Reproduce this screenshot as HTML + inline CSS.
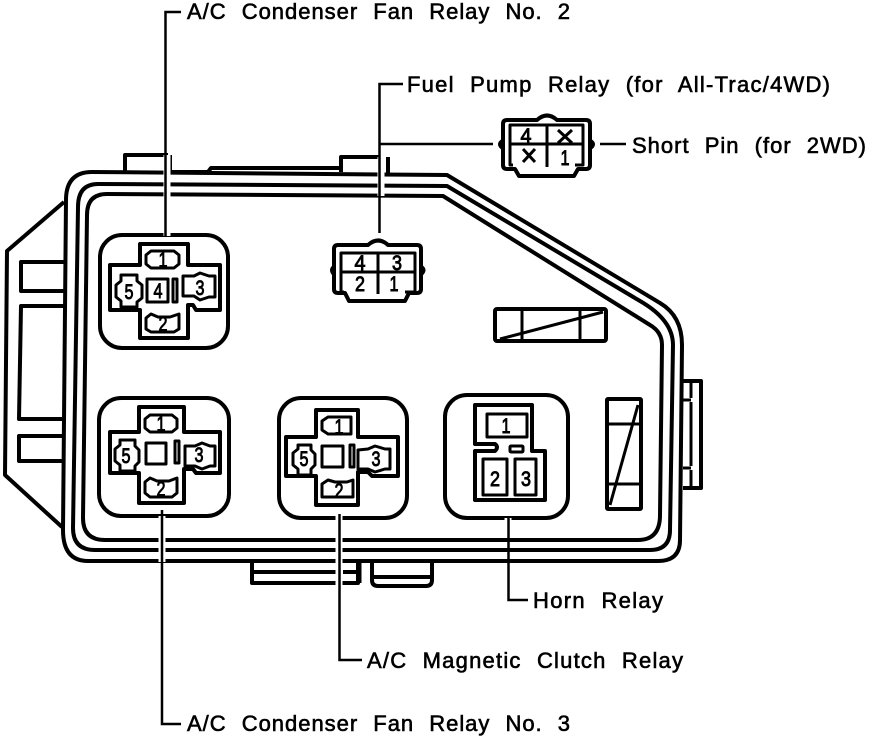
<!DOCTYPE html>
<html><head><meta charset="utf-8"><style>
html,body{margin:0;padding:0;background:#fff}
svg{display:block}
text{font-family:"Liberation Sans",sans-serif;fill:#000}
.l{font-size:22px;stroke:#000;stroke-width:.6;word-spacing:8px}
.n{font-size:21px;text-anchor:middle;stroke:#000;stroke-width:.9}
.s{fill:none;stroke:#000;stroke-width:4;stroke-linejoin:round}
.t{fill:none;stroke:#000;stroke-width:3;stroke-linejoin:round}
.f{fill:none;stroke:#000;stroke-width:2.5}
.w{fill:none;stroke:#fff;stroke-width:7}
</style></head><body>
<svg width="880" height="740" viewBox="0 0 880 740" xmlns="http://www.w3.org/2000/svg">
<!-- housing -->
<path class="s" d="M66,200 Q66,172 92,172 L447,175 L660,303 Q682,316 682,345 L680,540 Q680,561 658,561 L88,561 Q63,561 63,530 Z"/>
<path class="s" d="M78,207 Q78,184 98,184 L447,186 L640,301 Q673,320 673,345 L670,530 Q670,550 650,550 L95,550 Q73,550 73,528 Z"/>
<path class="s" d="M87,215 Q87,194 107,194 L443,196 L650,325 Q662,332 662,345 L660,515 Q660,540 638,540 L105,540 Q83,540 83,518 Z"/>
<!-- top tabs -->
<path class="s" d="M125,172 V155 H168 M170,155 V172 H208 L211,168 H341 M341,172 V157 H380 M388,157 V173"/>
<!-- left wing -->
<path class="s" d="M64,202 L7,251 L5,475 L62,527"/>
<path class="s" d="M64,262 H21 V291 H64 M64,306 H21 L19,419 H62 M62,436 H19 V461 H62"/>
<!-- right tab -->
<path class="s" d="M683,381 H701 V488 H683"/>
<path class="t" d="M691,381 V398 M683,400 H691 M691,402 V466 M683,468 H691 M691,470 V488"/>
<!-- bottom tabs -->
<path class="s" d="M252,561 V583 H358 V563 M252,572 H336 M343,572 H358"/>
<path class="t" d="M360,562 V583"/>
<path class="s" d="M372,561 V580 Q372,586 378,586 H426 Q432,586 432,580 V561 M372,577 H432"/>
<!-- plain rectangles -->
<rect class="s" x="495" y="309" width="111" height="32" rx="2"/>
<path class="t" d="M522,309 V341 M580,309 V341 M500,339 L603,312"/>
<rect class="s" x="607" y="399" width="34" height="110" rx="1"/>
<path class="t" d="M607,424 H641 M607,484 H641 M610,505 L638,405"/>
<!-- relay block 1 -->
<rect class="s" x="100" y="235" width="128" height="113" rx="22"/>
<path class="s" d="M140,244 H188 V265 H220 V310 H196 L193,305 H188 V338 H140 V310 H110 V265 H140 Z"/>
<path class="t" d="M151,251 H174 L179,255 V264 L174,268 H151 L146,264 V255 Z"/>
<path class="t" d="M151,314 L158,317 H170 L179,314 V329 L174,332 H151 L146,329 V318 Z"/>
<path class="t" d="M121,275 H137 V281 L142,285 V298 L137,302 V307 H121 V301 L116,297 V285 L121,281 Z"/>
<path class="t" d="M183,276 L194,276 L200,273 L209,276 H215 V297 L209,297 L200,300 L194,296 H183 Z"/>
<rect class="t" x="147" y="279" width="21" height="23"/>
<rect class="t" x="173" y="279" width="4" height="23"/>
<g lengthAdjust="spacingAndGlyphs">
<text class="n" x="163" y="267" textLength="9" lengthAdjust="spacingAndGlyphs">1</text><text class="n" x="163" y="331" textLength="9" lengthAdjust="spacingAndGlyphs">2</text>
<text class="n" x="129" y="299" textLength="9" lengthAdjust="spacingAndGlyphs">5</text><text class="n" x="200" y="295" textLength="9" lengthAdjust="spacingAndGlyphs">3</text><text class="n" x="158" y="298" textLength="9" lengthAdjust="spacingAndGlyphs">4</text>
</g>
<!-- relay block 2 -->
<rect class="s" x="99" y="398" width="130" height="118" rx="22"/>
<path class="s" d="M139,407 H184 V432 H220 V473 H196 L193,469 H184 V503 H139 V473 H110 V432 H139 Z"/>
<path class="t" d="M150,415 H172 L177,419 V428 L172,432 H150 L145,428 V419 Z"/>
<path class="t" d="M150,478 L157,481 H169 L177,478 V493 L172,497 H150 L145,493 V482 Z"/>
<path class="t" d="M120,440 H135 V446 L139,450 V462 L135,466 V471 H120 V465 L115,461 V449 L120,445 Z"/>
<path class="t" d="M185,446 L195,446 L202,443 L210,446 H215 V466 H210 L202,469 L195,466 H185 Z"/>
<rect class="t" x="146" y="443" width="20" height="21"/>
<rect class="t" x="175" y="441" width="4" height="22"/>
<text class="n" x="161" y="431" textLength="9" lengthAdjust="spacingAndGlyphs">1</text><text class="n" x="161" y="496" textLength="9" lengthAdjust="spacingAndGlyphs">2</text>
<text class="n" x="126" y="463" textLength="9" lengthAdjust="spacingAndGlyphs">5</text><text class="n" x="199" y="462" textLength="9" lengthAdjust="spacingAndGlyphs">3</text>
<!-- relay block 3 -->
<rect class="s" x="279" y="398" width="128" height="120" rx="22"/>
<path class="s" d="M316,410 H358 V437 H398 V476 H372 L368,472 H358 V505 H316 V476 H286 V437 H316 Z"/>
<path class="t" d="M328,417 H351 V434 H328 L322,430 V421 Z"/>
<path class="t" d="M328,480 L335,482 H347 L353,480 V497 H322 V484 Z"/>
<path class="t" d="M298,445 H311 V450 L315,454 V465 L311,469 V475 H298 V469 L293,465 V453 L298,449 Z"/>
<path class="t" d="M358,450 L368,449 L375,446 L385,449 H390 V469 H385 L375,472 L368,469 H358 Z"/>
<rect class="t" x="322" y="446" width="21" height="21"/>
<rect class="t" x="350" y="445" width="4" height="22"/>
<text class="n" x="339" y="434" textLength="9" lengthAdjust="spacingAndGlyphs">1</text><text class="n" x="339" y="498" textLength="9" lengthAdjust="spacingAndGlyphs">2</text>
<text class="n" x="304" y="466" textLength="9" lengthAdjust="spacingAndGlyphs">5</text><text class="n" x="376" y="466" textLength="9" lengthAdjust="spacingAndGlyphs">3</text>
<!-- horn relay -->
<rect class="s" x="445" y="395" width="123" height="123" rx="22"/>
<path class="s" d="M475,405 H532 V451 H545 V500 H475 V451 H495 Q499,447 495,444 H475 Z"/>
<rect class="t" x="487" y="414" width="40" height="23"/>
<rect class="t" x="510" y="446" width="13" height="6" rx="1"/>
<rect class="t" x="483" y="459" width="24" height="36"/>
<rect class="t" x="515" y="459" width="21" height="36"/>
<text class="n" x="506" y="433" textLength="9" lengthAdjust="spacingAndGlyphs">1</text><text class="n" x="495" y="486" textLength="10" lengthAdjust="spacingAndGlyphs">2</text><text class="n" x="526" y="486" textLength="10" lengthAdjust="spacingAndGlyphs">3</text>
<!-- fuel pump connector -->
<path class="s" d="M338,245 H368 Q378,236 388,245 H417 Q421,245 421,249 V289 Q421,293 417,293 H409 L405,301 H349 L345,293 H338 Q334,293 334,289 V249 Q334,245 338,245 Z"/>
<path class="t" d="M334,266 Q329,270 334,275 M421,266 Q427,270 421,275"/>
<path class="t" d="M344,292 H341 V253 H415 V292 H405 M341,272 H415 M378,253 V294"/>
<text class="n" x="360" y="270" textLength="11" lengthAdjust="spacingAndGlyphs">4</text><text class="n" x="397" y="270" textLength="10" lengthAdjust="spacingAndGlyphs">3</text><text class="n" x="360" y="291" textLength="10" lengthAdjust="spacingAndGlyphs">2</text><text class="n" x="394" y="291" textLength="9" lengthAdjust="spacingAndGlyphs">1</text>
<!-- short pin connector -->
<path class="s" d="M507,120 H537 Q547,111 557,120 H586 Q590,120 590,124 V165 Q590,169 586,169 H578 L574,176 H519 L515,169 H507 Q503,169 503,165 V124 Q503,120 507,120 Z"/>
<path class="t" d="M503,140 Q496,144 503,149"/>
<path class="t" d="M590,140 Q597,144 590,149"/>
<path class="t" d="M513,165 H510 V125 H583 V165 H575 M510,144 H583 M547,125 V167"/>
<path class="t" d="M558,130 L572,143 M572,130 L558,143 M523,149 L535,162 M535,149 L523,162"/>
<text class="n" x="526" y="143" textLength="11" lengthAdjust="spacingAndGlyphs">4</text><text class="n" x="565" y="165" textLength="9" lengthAdjust="spacingAndGlyphs">1</text>
<!-- leader halos -->
<path class="w" d="M167,155 V236 M381,157 V196 M339,516 V590 M162,516 V562 M508,518 V520"/>
<!-- leaders -->
<path class="f" d="M181,12 H165.5 V236"/>
<path class="f" d="M403,84 H379.500 V233"/>
<path class="f" d="M379.500,144 H493 M600,144 H626"/>
<path class="f" d="M162,510 V724 H181"/>
<path class="f" d="M339.500,514 V660 H362"/>
<path class="f" d="M508.500,516 V600 H528"/>
<!-- labels -->
<text class="l" x="187" y="19" textLength="383" lengthAdjust="spacing">A/C Condenser Fan Relay No. 2</text>
<text class="l" x="407" y="92" textLength="423" lengthAdjust="spacing">Fuel Pump Relay (for All-Trac/4WD)</text>
<text class="l" x="632" y="153" textLength="234" lengthAdjust="spacing">Short Pin (for 2WD)</text>
<text class="l" x="533" y="608" textLength="130" lengthAdjust="spacing">Horn Relay</text>
<text class="l" x="367" y="668" textLength="316" lengthAdjust="spacing">A/C Magnetic Clutch Relay</text>
<text class="l" x="187" y="731" textLength="383" lengthAdjust="spacing">A/C Condenser Fan Relay No. 3</text>
</svg>
</body></html>
